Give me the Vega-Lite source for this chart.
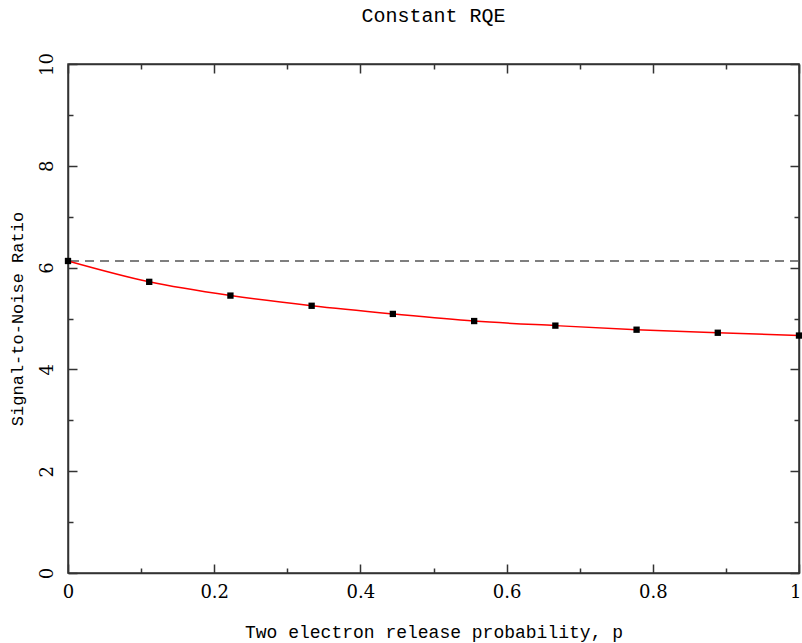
{
  "$schema": "https://vega.github.io/schema/vega-lite/v6.json",
  "width": 731,
  "height": 509,
  "autosize": {"type": "none"},
  "padding": {"left": 68, "top": 64, "right": 3, "bottom": 70},
  "background": "white",
  "config": {
    "view": {"stroke": "#333", "strokeWidth": 1.5},
    "font": "Liberation Mono",
    "axis": {
      "domainColor": "#333",
      "domainWidth": 1.5,
      "tickColor": "#333",
      "tickWidth": 1.5,
      "labelFont": "DejaVu Serif",
      "labelFontSize": 18,
      "labelColor": "black",
      "titleFont": "Liberation Mono",
      "titleFontSize": 18,
      "titleFontWeight": "normal",
      "titleColor": "black",
      "grid": false
    },
    "title": {"font": "Liberation Mono", "fontSize": 20, "fontWeight": "normal", "color": "black"}
  },
  "title": {"text": "Constant RQE", "offset": 27},
  "datasets": {
    "pts": [
      {"p": 0.0, "snr": 6.13},
      {"p": 0.1111, "snr": 5.72},
      {"p": 0.2222, "snr": 5.45},
      {"p": 0.3333, "snr": 5.25},
      {"p": 0.4444, "snr": 5.09},
      {"p": 0.5556, "snr": 4.95},
      {"p": 0.6667, "snr": 4.86},
      {"p": 0.7778, "snr": 4.78},
      {"p": 0.8889, "snr": 4.72},
      {"p": 1.0, "snr": 4.665}
    ],
    "ref": [{"snr": 6.13}]
  },
  "resolve": {"axis": {"x": "independent", "y": "independent"}},
  "layer": [
    {
      "data": {"name": "ref"},
      "mark": {"type": "rule", "color": "#555", "strokeWidth": 1.5, "strokeDash": [9, 6]},
      "encoding": {
        "y": {"field": "snr", "type": "quantitative", "scale": {"domain": [0, 10], "nice": false}, "axis": null}
      }
    },
    {
      "data": {"name": "pts"},
      "mark": {"type": "line", "color": "#ff0000", "strokeWidth": 1.5, "interpolate": "monotone"},
      "encoding": {
        "x": {
          "field": "p", "type": "quantitative",
          "scale": {"domain": [0, 1], "nice": false, "zero": false},
          "axis": {
            "orient": "bottom",
            "title": "Two electron release probability, p",
            "values": [0, 0.1, 0.2, 0.3, 0.4, 0.5, 0.6, 0.7, 0.8, 0.9, 1],
            "format": "~g",
            "labelExpr": "round(datum.value*10) % 2 == 0 ? datum.label : ''",
            "tickSize": {"condition": {"test": "round(datum.value*10) % 2 == 0", "value": -9}, "value": -5},
            "labelAlign": {"condition": {"test": "datum.value == 1", "value": "right"}, "value": "center"},
            "labelOffset": {"condition": {"test": "datum.value == 1", "value": 2}, "value": 0},
            "labelPadding": 19,
            "labelFlush": false,
            "labelOverlap": false,
            "titlePadding": 18
          }
        },
        "y": {
          "field": "snr", "type": "quantitative",
          "scale": {"domain": [0, 10], "nice": false},
          "axis": {
            "orient": "left",
            "title": "Signal-to-Noise Ratio",
            "titleFontSize": 17,
            "values": [0, 1, 2, 3, 4, 5, 6, 7, 8, 9, 10],
            "labelExpr": "datum.value % 2 == 0 ? datum.label : ''",
            "tickSize": {"condition": {"test": "datum.value % 2 == 0", "value": -9}, "value": -5},
            "labelAngle": -90,
            "labelAlign": "center",
            "labelBaseline": "bottom",
            "labelPadding": 21,
            "labelFlush": false,
            "labelOverlap": false,
            "titlePadding": 8
          }
        }
      }
    },
    {
      "data": {"name": "pts"},
      "mark": {"type": "square", "color": "black", "filled": true, "opacity": 1, "size": 40},
      "encoding": {
        "x": {
          "field": "p", "type": "quantitative",
          "scale": {"domain": [0, 1], "nice": false, "zero": false},
          "axis": {
            "orient": "top",
            "title": null,
            "values": [0, 0.1, 0.2, 0.3, 0.4, 0.5, 0.6, 0.7, 0.8, 0.9, 1],
            "labels": false,
            "tickSize": {"condition": {"test": "round(datum.value*10) % 2 == 0", "value": -9}, "value": -5}
          }
        },
        "y": {
          "field": "snr", "type": "quantitative",
          "scale": {"domain": [0, 10], "nice": false},
          "axis": {
            "orient": "right",
            "title": null,
            "values": [0, 1, 2, 3, 4, 5, 6, 7, 8, 9, 10],
            "labels": false,
            "tickSize": {"condition": {"test": "datum.value % 2 == 0", "value": -9}, "value": -5}
          }
        }
      }
    }
  ]
}
